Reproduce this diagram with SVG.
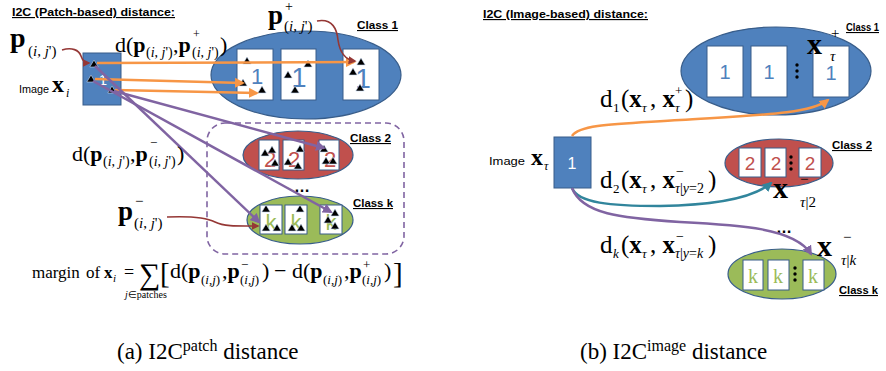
<svg xmlns="http://www.w3.org/2000/svg" xmlns:xlink="http://www.w3.org/1999/xlink" width="886" height="371" viewBox="0 0 886 371">
<style>
.title{font-family:"Liberation Sans",Arial,sans-serif;font-weight:bold;font-size:11.5px;text-decoration:underline;fill:#000}
.cls{font-family:"Liberation Sans",Arial,sans-serif;font-weight:bold;font-size:11px;text-decoration:underline;fill:#000}
.sans{font-family:"Liberation Sans",Arial,sans-serif;fill:#000}
.m{font-family:"Liberation Serif","Times New Roman",serif;fill:#000}
.b{font-weight:bold}
.i{font-style:italic}
.box{fill:#4F81BD;stroke:#385D8A;stroke-width:1}
.card{fill:#fff;stroke:#385D8A;stroke-width:1}
.eb{fill:#4F81BD;stroke:#385D8A;stroke-width:1.2}
.er{fill:#C0504D;stroke:#385D8A;stroke-width:1.2}
.eg{fill:#9BBB59;stroke:#385D8A;stroke-width:1.2}
.d1{font-family:"Liberation Sans",Arial,sans-serif;fill:#4F81BD}
.d2{font-family:"Liberation Sans",Arial,sans-serif;fill:#C0504D}
.dk{font-family:"Liberation Sans",Arial,sans-serif;fill:#9BBB59}
.dks{font-family:"Liberation Serif","Times New Roman",serif;fill:#9BBB59}
.wh{font-family:"Liberation Sans",Arial,sans-serif;fill:#fff}
.or{fill:none;stroke:#F79646;stroke-width:2.5}
.pu{fill:none;stroke:#8064A2;stroke-width:2.5}
.te{fill:none;stroke:#31859C;stroke-width:2.5}
.dr{fill:none;stroke:#953735;stroke-width:1.6}
.dash{fill:none;stroke:#8064A2;stroke-width:1.6;stroke-dasharray:6 4}
.dot{fill:#000}
</style>
<defs>
<path id="tri" d="M0,-4 L4.2,3 L-4.2,3 Z" fill="#000" stroke="#C6D9F1" stroke-width="0.6"/>
<marker id="aOr" viewBox="0 0 10 10" refX="8" refY="5" markerWidth="4" markerHeight="4" orient="auto"><path d="M0,0 L10,5 L0,10 Z" fill="#F79646"/></marker>
<marker id="aPu" viewBox="0 0 10 10" refX="8" refY="5" markerWidth="4" markerHeight="4" orient="auto"><path d="M0,0 L10,5 L0,10 Z" fill="#8064A2"/></marker>
<marker id="aTe" viewBox="0 0 10 10" refX="8" refY="5" markerWidth="4" markerHeight="4" orient="auto"><path d="M0,0 L10,5 L0,10 Z" fill="#31859C"/></marker>
<marker id="aDr" viewBox="0 0 10 10" refX="8" refY="5" markerWidth="5" markerHeight="5" orient="auto"><path d="M0,0 L10,5 L0,10 Z" fill="#953735"/></marker>
</defs>

<!-- ===== Left panel (a) ===== -->
<text class="title" x="12" y="16" textLength="163" lengthAdjust="spacingAndGlyphs">I2C (Patch-based) distance:</text>

<g id="left-class1">
<ellipse class="eb" cx="306" cy="75" rx="95" ry="44"/>
<rect class="card" x="237" y="49" width="36" height="51"/>
<rect class="card" x="281" y="49" width="35" height="51"/>
<rect class="card" x="343" y="49" width="36" height="51"/>
<text class="d1" x="257" y="84" font-size="22" text-anchor="middle">1</text>
<text class="d1" x="299" y="87" font-size="27" text-anchor="middle">1</text>
<text class="d1" x="363" y="88" font-size="28" text-anchor="middle">1</text>
<use xlink:href="#tri" x="247" y="61"/><use xlink:href="#tri" x="243" y="83"/><use xlink:href="#tri" x="262" y="90"/>
<use xlink:href="#tri" x="308" y="64"/><use xlink:href="#tri" x="288" y="75"/><use xlink:href="#tri" x="295" y="90"/>
<use xlink:href="#tri" x="361" y="62"/><use xlink:href="#tri" x="353" y="72"/><use xlink:href="#tri" x="360" y="88"/>
<text class="cls" x="357" y="29" textLength="41" lengthAdjust="spacingAndGlyphs">Class 1</text>
</g>

<g id="left-negatives">
<rect class="dash" x="207" y="123" width="197" height="131" rx="18" ry="18"/>
</g>

<g id="left-class2">
<ellipse class="er" cx="298" cy="155" rx="55" ry="24"/>
<rect class="card" x="259" y="140" width="20" height="30"/>
<rect class="card" x="283" y="140" width="21" height="30"/>
<rect class="card" x="319" y="140" width="20" height="30"/>
<text class="d2" x="270" y="167" font-size="22" text-anchor="middle">2</text>
<text class="d2" x="294" y="167" font-size="22" text-anchor="middle">2</text>
<text class="d2" x="330" y="167" font-size="22" text-anchor="middle">2</text>
<use xlink:href="#tri" x="265" y="153"/><use xlink:href="#tri" x="272" y="150"/><use xlink:href="#tri" x="275" y="163"/>
<use xlink:href="#tri" x="288" y="162"/><use xlink:href="#tri" x="300" y="149"/><use xlink:href="#tri" x="298" y="166"/>
<use xlink:href="#tri" x="324" y="149"/><use xlink:href="#tri" x="326" y="161"/><use xlink:href="#tri" x="333" y="161"/>
<text class="cls" x="350" y="142" textLength="41" lengthAdjust="spacingAndGlyphs">Class 2</text>
</g>

<g id="left-dots">
<text class="sans" x="302" y="192" font-size="16" font-weight="bold" text-anchor="middle">…</text>
</g>

<g id="left-classk">
<ellipse class="eg" cx="300" cy="220" rx="53" ry="24"/>
<rect class="card" x="260" y="205" width="22" height="29"/>
<rect class="card" x="285" y="205" width="22" height="29"/>
<rect class="card" x="320" y="205" width="22" height="29"/>
<text class="dk" x="271" y="230" font-size="22" text-anchor="middle">k</text>
<text class="dk" x="296" y="230" font-size="22" text-anchor="middle">k</text>
<text class="dk" x="331" y="230" font-size="22" text-anchor="middle">k</text>
<use xlink:href="#tri" x="266" y="209"/><use xlink:href="#tri" x="266" y="228"/><use xlink:href="#tri" x="277" y="228"/>
<use xlink:href="#tri" x="300" y="209"/><use xlink:href="#tri" x="292" y="228"/><use xlink:href="#tri" x="301" y="228"/>
<use xlink:href="#tri" x="335" y="213"/><use xlink:href="#tri" x="328" y="220"/><use xlink:href="#tri" x="335" y="226"/>
<text class="cls" x="353" y="207" textLength="40" lengthAdjust="spacingAndGlyphs">Class k</text>
</g>

<g id="left-image">
<rect class="box" x="83" y="53" width="38" height="52"/>
<text class="wh" x="103" y="85" font-size="15" text-anchor="middle">1</text>
<use xlink:href="#tri" x="94" y="64"/><use xlink:href="#tri" x="91" y="79"/><use xlink:href="#tri" x="112" y="90"/>
<text class="sans" x="19" y="93" font-size="11.5" textLength="30" lengthAdjust="spacingAndGlyphs">Image</text>
<text class="m b" x="52" y="92" font-size="24">x</text>
<text class="m i" x="66" y="97" font-size="12">i</text>
</g>

<g id="connectors-left">
<line class="or" x1="97" y1="63" x2="354" y2="62" marker-end="url(#aOr)"/>
<line class="or" x1="95" y1="79" x2="243" y2="83" marker-end="url(#aOr)"/>
<line class="or" x1="115" y1="90" x2="257" y2="93" marker-end="url(#aOr)"/>
<line class="pu" x1="95" y1="66" x2="259" y2="222" marker-end="url(#aPu)"/>
<line class="pu" x1="93" y1="81" x2="331" y2="212" marker-end="url(#aPu)"/>
<line class="pu" x1="114" y1="91" x2="324" y2="148" marker-end="url(#aPu)"/>
<path class="dr" d="M62,50 C72,47 79,50 81,56 C83,62 86,63 89,63" marker-end="url(#aDr)"/>
<path class="dr" d="M317,21 C333,18 337,30 338,40 C340,54 346,60 355,61" marker-end="url(#aDr)"/>
<path class="dr" d="M167,217 C190,216 205,217 215,222 C225,227 240,226 258,226" marker-end="url(#aDr)"/>
</g>

<g id="left-labels">
<text class="m b" x="10" y="47" font-size="28">p</text>
<text class="m" x="28" y="56" font-size="15">(<tspan class="i">i</tspan>, <tspan class="i">j</tspan>')</text>

<text class="m" x="115" y="52" font-size="22">d(<tspan class="b">p</tspan></text>
<text class="m" x="146" y="57" font-size="14">(<tspan class="i">i</tspan>, <tspan class="i">j</tspan>')</text>
<text class="m" x="173" y="52" font-size="22">,<tspan class="b">p</tspan></text>
<text class="m" x="193" y="38" font-size="12">+</text>
<text class="m" x="192" y="57" font-size="14">(<tspan class="i">i</tspan>, <tspan class="i">j</tspan>')</text>
<text class="m" x="220" y="52" font-size="22">)</text>

<text class="m" x="72" y="161" font-size="22">d(<tspan class="b">p</tspan></text>
<text class="m" x="103" y="166" font-size="14">(<tspan class="i">i</tspan>, <tspan class="i">j</tspan>')</text>
<text class="m" x="130" y="161" font-size="22">,<tspan class="b">p</tspan></text>
<text class="m" x="150" y="147" font-size="13">−</text>
<text class="m" x="149" y="166" font-size="14">(<tspan class="i">i</tspan>, <tspan class="i">j</tspan>')</text>
<text class="m" x="177" y="161" font-size="22">)</text>

<text class="m b" x="268" y="24" font-size="27">p</text>
<text class="m" x="285" y="11" font-size="14">+</text>
<text class="m" x="284" y="31" font-size="15">(<tspan class="i">i</tspan>, <tspan class="i">j</tspan>')</text>

<text class="m b" x="118" y="220" font-size="27">p</text>
<text class="m" x="135" y="206" font-size="15">−</text>
<text class="m" x="134" y="228" font-size="15">(<tspan class="i">i</tspan>, <tspan class="i">j</tspan>')</text>
</g>

<g id="margin-formula">
<text class="m" x="32" y="278" font-size="17">margin</text>
<text class="m" x="86" y="278" font-size="17">of</text>
<text class="m b" x="104" y="278" font-size="17">x</text>
<text class="m i" x="113" y="282" font-size="11">i</text>
<text class="m" x="124" y="278" font-size="18">=</text>
<text class="m" x="139" y="284" font-size="30">∑</text>
<text class="m" x="125" y="298" font-size="10"><tspan class="i">j</tspan>∈patches</text>
<text class="m" x="160" y="283" font-size="29">[</text>
<text class="m" x="170" y="278" font-size="22">d(<tspan class="b">p</tspan></text>
<text class="m" x="201" y="284" font-size="13">(<tspan class="i">i</tspan>,<tspan class="i">j</tspan>)</text>
<text class="m" x="222" y="278" font-size="22">,<tspan class="b">p</tspan></text>
<text class="m" x="241" y="269" font-size="13">−</text>
<text class="m" x="240" y="284" font-size="13">(<tspan class="i">i</tspan>,<tspan class="i">j</tspan>)</text>
<text class="m" x="262" y="278" font-size="22">)</text>
<text class="m" x="274" y="278" font-size="22">−</text>
<text class="m" x="292" y="278" font-size="22">d(<tspan class="b">p</tspan></text>
<text class="m" x="323" y="284" font-size="13">(<tspan class="i">i</tspan>,<tspan class="i">j</tspan>)</text>
<text class="m" x="344" y="278" font-size="22">,<tspan class="b">p</tspan></text>
<text class="m" x="363" y="269" font-size="13">+</text>
<text class="m" x="362" y="284" font-size="13">(<tspan class="i">i</tspan>,<tspan class="i">j</tspan>)</text>
<text class="m" x="384" y="278" font-size="22">)</text>
<text class="m" x="393" y="283" font-size="29">]</text>
</g>

<!-- ===== Right panel (b) ===== -->
<text class="title" x="483" y="18" textLength="165" lengthAdjust="spacingAndGlyphs">I2C (Image-based) distance:</text>

<g id="right-class1">
<ellipse class="eb" cx="776" cy="71" rx="95" ry="44"/>
<rect class="card" x="707" y="46" width="36" height="51"/>
<rect class="card" x="751" y="46" width="36" height="51"/>
<rect class="card" x="813" y="46" width="36" height="51"/>
<text class="d1" x="725" y="79" font-size="20" text-anchor="middle">1</text>
<text class="d1" x="769" y="79" font-size="20" text-anchor="middle">1</text>
<text class="d1" x="831" y="80" font-size="20" text-anchor="middle">1</text>
<circle class="dot" cx="797" cy="65" r="1.7"/><circle class="dot" cx="797" cy="71" r="1.7"/><circle class="dot" cx="797" cy="77" r="1.7"/>
<text class="cls" x="846" y="31" textLength="33" lengthAdjust="spacingAndGlyphs">Class 1</text>
<text class="m b" x="807" y="54" font-size="30">x</text>
<text class="m" x="831" y="38" font-size="15">+</text>
<text class="m i" x="830" y="61" font-size="15">τ</text>
</g>

<g id="right-class2">
<ellipse class="er" cx="779" cy="163" rx="54" ry="24"/>
<rect class="card" x="739" y="148" width="22" height="29"/>
<rect class="card" x="765" y="148" width="21" height="29"/>
<rect class="card" x="799" y="148" width="22" height="29"/>
<text class="d2" x="750" y="170" font-size="19" text-anchor="middle">2</text>
<text class="d2" x="776" y="170" font-size="19" text-anchor="middle">2</text>
<text class="d2" x="810" y="170" font-size="19" text-anchor="middle">2</text>
<circle class="dot" cx="791" cy="157" r="1.7"/><circle class="dot" cx="791" cy="163" r="1.7"/><circle class="dot" cx="791" cy="169" r="1.7"/>
<text class="cls" x="832" y="149" textLength="40" lengthAdjust="spacingAndGlyphs">Class 2</text>
<text class="m b" x="773" y="198" font-size="30">x</text>
<text class="m" x="800" y="184" font-size="15">−</text>
<text class="m" x="800" y="207" font-size="15"><tspan class="i">τ</tspan>|2</text>
</g>

<g id="right-dots">
<text class="sans" x="784" y="233" font-size="16" font-weight="bold" text-anchor="middle">…</text>
</g>

<g id="right-classk">
<ellipse class="eg" cx="782" cy="274" rx="54" ry="25"/>
<rect class="card" x="743" y="260" width="20" height="30"/>
<rect class="card" x="768" y="260" width="21" height="30"/>
<rect class="card" x="803" y="260" width="21" height="30"/>
<text class="dks" x="753" y="283" font-size="20" text-anchor="middle">k</text>
<text class="dks" x="778" y="283" font-size="20" text-anchor="middle">k</text>
<text class="dks" x="813" y="283" font-size="20" text-anchor="middle">k</text>
<circle class="dot" cx="795" cy="268" r="1.7"/><circle class="dot" cx="795" cy="274" r="1.7"/><circle class="dot" cx="795" cy="280" r="1.7"/>
<text class="cls" x="839" y="294" textLength="39" lengthAdjust="spacingAndGlyphs">Class k</text>
<text class="m b" x="817" y="256" font-size="30">x</text>
<text class="m" x="843" y="242" font-size="15">−</text>
<text class="m" x="841" y="265" font-size="15"><tspan class="i">τ</tspan>|<tspan class="i">k</tspan></text>
</g>

<g id="right-image">
<rect class="box" x="554" y="137" width="37" height="51"/>
<text class="wh" x="572" y="169" font-size="16" text-anchor="middle">1</text>
<text class="sans" x="489" y="165" font-size="11.5" textLength="36" lengthAdjust="spacingAndGlyphs">Image</text>
<text class="m b" x="531" y="165" font-size="24">x</text>
<text class="m i" x="544" y="170" font-size="12">τ</text>
</g>

<g id="connectors-right">
<path class="or" d="M572,136 C580,124 620,124 680,120 C760,115 810,114 828,100" marker-end="url(#aOr)"/>
<path class="te" d="M572,188 C578,203 610,206 660,206 C720,205 755,197 771,183" marker-end="url(#aTe)"/>
<path class="pu" d="M572,188 C582,214 620,218 680,222 C740,225 795,228 811,254" marker-end="url(#aPu)"/>
</g>

<g id="right-labels">
<text class="m" x="600" y="107" font-size="25">d</text>
<text class="m" x="613" y="112" font-size="13">1</text>
<text class="m" x="621" y="107" font-size="25">(<tspan class="b">x</tspan></text>
<text class="m i" x="642" y="112" font-size="13">τ</text>
<text class="m" x="650" y="107" font-size="25">, <tspan class="b">x</tspan></text>
<text class="m" x="675" y="95" font-size="13">+</text>
<text class="m i" x="675" y="112" font-size="13">τ</text>
<text class="m" x="685" y="107" font-size="25">)</text>

<text class="m" x="600" y="188" font-size="25">d</text>
<text class="m" x="613" y="193" font-size="13">2</text>
<text class="m" x="621" y="188" font-size="25">(<tspan class="b">x</tspan></text>
<text class="m i" x="642" y="193" font-size="13">τ</text>
<text class="m" x="650" y="188" font-size="25">, <tspan class="b">x</tspan></text>
<text class="m" x="676" y="176" font-size="14">−</text>
<text class="m" x="675" y="193" font-size="14"><tspan class="i">τ</tspan>|<tspan class="i">y</tspan>=2</text>
<text class="m" x="708" y="188" font-size="25">)</text>

<text class="m" x="600" y="253" font-size="25">d</text>
<text class="m i" x="613" y="258" font-size="13">k</text>
<text class="m" x="621" y="253" font-size="25">(<tspan class="b">x</tspan></text>
<text class="m i" x="642" y="258" font-size="13">τ</text>
<text class="m" x="650" y="253" font-size="25">, <tspan class="b">x</tspan></text>
<text class="m" x="676" y="241" font-size="14">−</text>
<text class="m" x="675" y="258" font-size="14"><tspan class="i">τ</tspan>|<tspan class="i">y</tspan>=<tspan class="i">k</tspan></text>
<text class="m" x="708" y="253" font-size="25">)</text>
</g>

<!-- captions -->
<text class="m" x="117" y="359" font-size="23">(a) I2C<tspan font-size="16" dy="-8">patch</tspan><tspan dy="8"> distance</tspan></text>
<text class="m" x="580" y="359" font-size="23">(b) I2C<tspan font-size="16" dy="-8">image</tspan><tspan dy="8"> distance</tspan></text>
</svg>
